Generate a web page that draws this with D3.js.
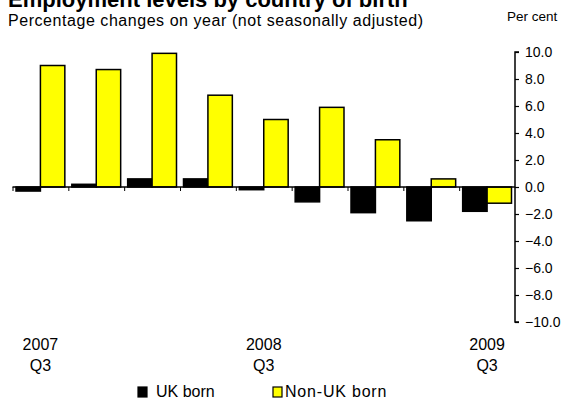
<!DOCTYPE html>
<html>
<head>
<meta charset="utf-8">
<script src="https://cdn.jsdelivr.net/npm/d3@7"></script>
<style>
  body { margin: 0; background: #fff; }
  svg { font-family: "Liberation Sans", Arial, sans-serif; }
</style>
</head>
<body>
<svg id="chart" width="563" height="400"></svg>
<script>
// quarters 2007 Q3 .. 2009 Q3
var quarters = ["2007 Q3", "2007 Q4", "2008 Q1", "2008 Q2", "2008 Q3", "2008 Q4", "2009 Q1", "2009 Q2", "2009 Q3"];
var ukBorn = [-0.3, 0.2, 0.6, 0.6, -0.2, -1.1, -1.9, -2.5, -1.8];
var nonUkBorn = [9.0, 8.7, 9.9, 6.8, 5.0, 5.9, 3.5, 0.6, -1.2];
var seriesNames = ["UK born", "Non-UK born"];
var seriesColors = ["#000000", "#ffff00"];
var yTicks = [-10, -8, -6, -4, -2, 0, 2, 4, 6, 8, 10];
var xLabels = [{q: "2007 Q3", year: "2007", qtr: "Q3"}, {q: "2008 Q3", year: "2008", qtr: "Q3"}, {q: "2009 Q3", year: "2009", qtr: "Q3"}];

let chart = d3.select("#chart");

var rows = quarters.map(function(q, i) {
    return {q: q, values: [ukBorn[i], nonUkBorn[i]]};
});

var xScale = d3.scaleBand()
    .domain(quarters)
    .range([12.5, 515])
    .padding(0);

var x1 = d3.scaleBand()
    .domain([0, 1])
    .range([3.5, xScale.bandwidth() - 3.5])
    .padding(0);

var yScale = d3.scaleLinear()
    .domain([-10, 10])
    .range([322, 52]);

// title (cut off at top in the original)
chart.append("text")
    .text("Employment levels by country of birth")
    .attr("x", 8)
    .attr("y", 7)
    .attr("font-size", "22px")
    .attr("font-weight", "bold");

chart.append("text")
    .text("Percentage changes on year (not seasonally adjusted)")
    .attr("x", 8)
    .attr("y", 26)
    .attr("font-size", "16px")
    .attr("letter-spacing", "0.55px");

chart.append("text")
    .text("Per cent")
    .attr("x", 507)
    .attr("y", 21)
    .attr("font-size", "13.5px");

// bars
var groups = chart.selectAll("g.quarter")
    .data(rows).enter()
        .append("g")
            .attr("class", "quarter")
            .attr("transform", function(d) { return "translate(" + xScale(d.q) + ",0)"; });

groups.selectAll("rect")
    .data(function(d) { return d.values.map(function(v, i) { return {i: i, v: v}; }); }).enter()
        .append("rect")
            .attr("x", function(d) { return x1(d.i); })
            .attr("y", function(d) { return yScale(Math.max(0, d.v)); })
            .attr("width", x1.bandwidth())
            .attr("height", function(d) { return Math.abs(yScale(d.v) - yScale(0)); })
            .attr("fill", function(d) { return seriesColors[d.i]; })
            .attr("stroke", "#000")
            .attr("stroke-width", 1.5);

// zero line with category ticks
var xAxis = chart.append("g")
    .attr("transform", "translate(0," + yScale(0) + ")");

xAxis.append("line")
    .attr("x1", xScale.range()[0])
    .attr("x2", xScale.range()[1])
    .attr("stroke", "#000")
    .attr("stroke-width", 1.5);

xAxis.selectAll("line.tick")
    .data(quarters).enter()
        .append("line")
            .attr("class", "tick")
            .attr("x1", function(d) { return xScale(d) + 0.5; })
            .attr("x2", function(d) { return xScale(d) + 0.5; })
            .attr("y1", 0)
            .attr("y2", 4)
            .attr("stroke", "#000");

// y axis on right, ticks pointing right
var yAxis = chart.append("g")
    .attr("transform", "translate(515,0)")
    .call(d3.axisRight(yScale).tickValues(yTicks).tickSize(4).tickPadding(6)
        .tickFormat(function(d) { return d3.format(".1f")(d).replace("-", "- "); }));

yAxis.select(".domain").attr("stroke-width", 1.5).attr("d", "M4,52H0V322H4");
yAxis.selectAll("text").attr("font-size", "14px").attr("font-family", "Liberation Sans, Arial, sans-serif").attr("fill", "#000");
yAxis.selectAll(".tick line").attr("stroke-width", 1.2);

// x labels
chart.selectAll("text.year")
    .data(xLabels).enter()
        .append("text")
            .attr("class", "year")
            .text(function(d) { return d.year; })
            .attr("x", function(d) { return xScale(d.q) + xScale.bandwidth() / 2; })
            .attr("y", 350)
            .attr("font-size", "16px")
            .style("text-anchor", "middle");

chart.selectAll("text.qtr")
    .data(xLabels).enter()
        .append("text")
            .attr("class", "qtr")
            .text(function(d) { return d.qtr; })
            .attr("x", function(d) { return xScale(d.q) + xScale.bandwidth() / 2; })
            .attr("y", 371)
            .attr("font-size", "16px")
            .style("text-anchor", "middle");

// legend
var legendX = [138, 273];
var legendTextX = [18, 12];
var legend = chart.selectAll("g.legend")
    .data(seriesNames).enter()
        .append("g")
            .attr("class", "legend")
            .attr("transform", function(d, i) { return "translate(" + legendX[i] + ",387)"; });

legend.append("rect")
    .attr("width", 9)
    .attr("height", 10)
    .attr("fill", function(d, i) { return seriesColors[i]; })
    .attr("stroke", "#000")
    .attr("stroke-width", 1.2);

legend.append("text")
    .text(function(d) { return d; })
    .attr("x", function(d, i) { return legendTextX[i]; })
    .attr("y", 10)
    .attr("font-size", "16px")
    .attr("letter-spacing", function(d, i) { return i === 1 ? "0.8px" : "0px"; });
</script>
</body>
</html>
